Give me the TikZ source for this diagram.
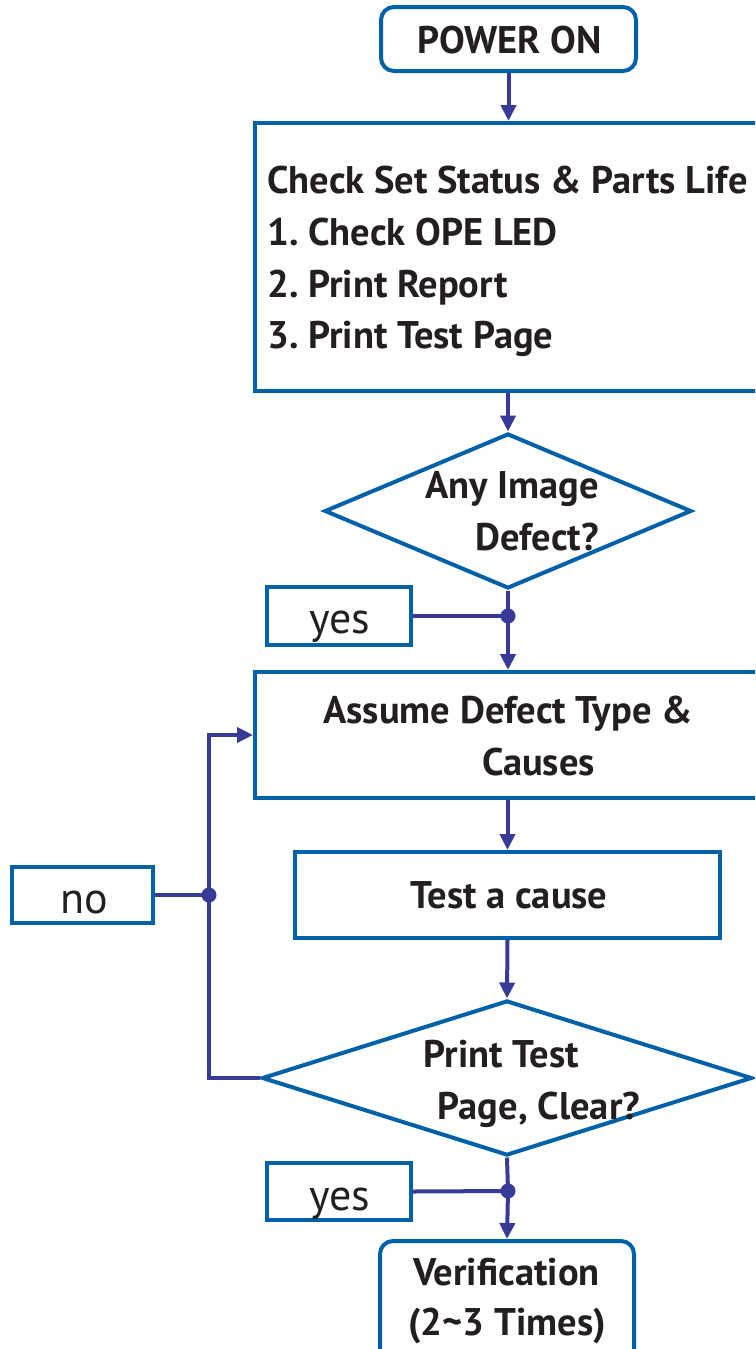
\documentclass[tikz,border=0pt]{standalone}
\usepackage{fontspec}
\setmainfont{PT Sans}
\usetikzlibrary{arrows.meta,shapes.geometric}
\definecolor{boxblue}{HTML}{0061A9}
\definecolor{linkblue}{HTML}{373A97}
\definecolor{ink}{HTML}{231F20}
\tikzset{
  shapebox/.style={draw=boxblue, line width=4pt, fill=white, inner sep=0pt},
  roundbox/.style={shapebox, rounded corners=13pt},
  decision/.style={shapebox, diamond},
  txt/.style={inner sep=0pt, text=ink, font=\bfseries\fontsize{38.5}{44}\selectfont},
  lbl/.style={inner sep=0pt, anchor=base, text=ink, font=\fontsize{44}{48}\selectfont},
  link/.style={draw=linkblue, line width=4pt},
  arr/.style={link, -{Triangle[length=16pt,width=15pt]}},
  dot/.style={circle, fill=linkblue, inner sep=0pt, minimum size=15pt},
}
\begin{document}
\begin{tikzpicture}[x=1pt,y=-1pt]
\useasboundingbox (0,0) rectangle (755,1349);
\clip (0,0) rectangle (755,1349);
% shapes
\node[roundbox, minimum width=255pt, minimum height=64pt] (power) at (508.5,39) {};
\node[shapebox, minimum width=535pt, minimum height=268pt] (check) at (522.5,257) {};
\node[decision, minimum width=367pt, minimum height=155pt] (q1) at (508,511) {};
\node[shapebox, minimum width=144pt, minimum height=58pt] (yes1) at (339,616) {};
\node[shapebox, minimum width=535pt, minimum height=126pt] (assume) at (522.5,735) {};
\node[shapebox, minimum width=425pt, minimum height=86pt] (test) at (507.5,895) {};
\node[decision, minimum width=490pt, minimum height=155pt] (q2) at (507,1078) {};
\node[shapebox, minimum width=141pt, minimum height=56pt] (no) at (82.5,895) {};
\node[shapebox, minimum width=144pt, minimum height=57pt] (yes2) at (339,1191.5) {};
\node[roundbox, minimum width=254pt, minimum height=138pt] (verif) at (507,1310) {};
% texts
\node[txt, anchor=base] (tpower) at (509.5,53) {POWER ON};
\node[txt, anchor=base west] (tc0) at (267,193) {Check Set Status \& Parts Life};
\node[txt, anchor=base west] (tc1) at (267,245) {1.\ Check OPE LED};
\node[txt, anchor=base west] (tc2) at (267,297) {2.\ Print Report};
\node[txt, anchor=base west] (tc3) at (267,348) {3.\ Print Test Page};
\node[txt, anchor=base east] (tq1a) at (599,498) {Any Image};
\node[txt, anchor=base east] (tq1b) at (599,550) {Defect?};
\node[txt, anchor=base] (ta1) at (508,723) {Assume Defect Type \&};
\node[txt, anchor=base] (ta2) at (538.5,775) {Causes};
\node[txt, anchor=base] (tt) at (509,908) {Test a cause};
\node[txt, anchor=base] (tq2a) at (501.5,1067) {Print Test};
\node[txt, anchor=base] (tq2b) at (539,1119) {Page, Clear?};
\node[txt, anchor=base] (tv1) at (506.5,1285) {Verification};
\node[txt, anchor=base] (tv2) at (507,1335) {(2\textasciitilde3 Times)};
\node[lbl] (tyes1) at (340,633) {yes};
\node[lbl] (tno) at (84,913) {no};
\node[lbl] (tyes2) at (340,1210) {yes};
% junction dots
\node[dot] (d1) at (508,616) {};
\node[dot] (dn) at (209,895) {};
\node[dot] (d2) at (508,1191) {};
% connectors
\draw[arr] (power.south) -- (power.south |- check.north);
\draw[arr] (q1.north |- check.south) -- (q1.north);
\draw[link] (q1.south) -- (d1.center);
\draw[link] (yes1.east) -- (d1.center);
\draw[arr] (d1.center) -- (d1 |- assume.north);
\draw[arr] (test.north |- assume.south) -- (test.north);
\draw[arr] (test.south) -- (q2.north);
\draw[link] (q2.south) -- (d2.center);
\draw[link] (yes2.east) -- (d2.center);
\draw[arr] (d2.center) -- (verif.north);
\draw[link] (q2.west) -| (dn.center);
\draw[link] (no.east) -- (dn.center);
\draw[arr] (dn.center) |- (assume.west);
\end{tikzpicture}
\end{document}
